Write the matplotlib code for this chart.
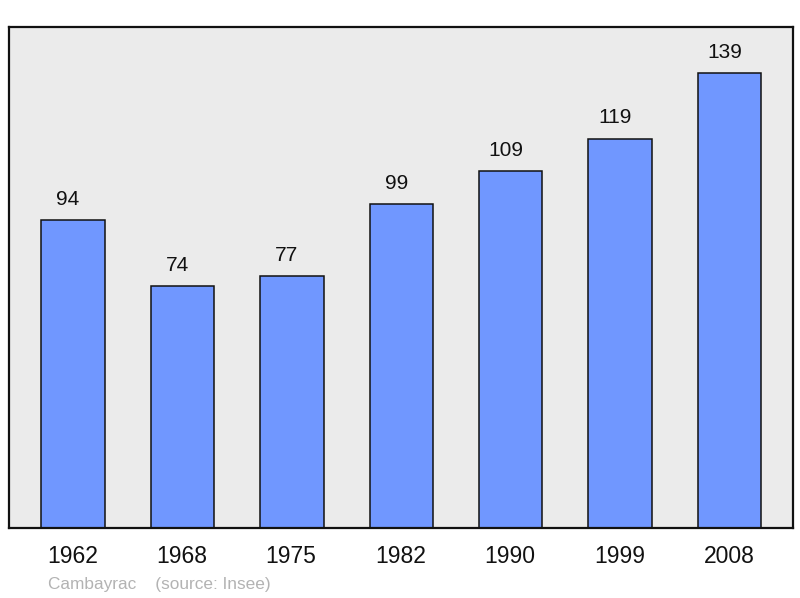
import matplotlib.pyplot as plt

years = ["1962", "1968", "1975", "1982", "1990", "1999", "2008"]
population = [94, 74, 77, 99, 109, 119, 139]

plt.rcParams['font.family'] = ['Liberation Sans', 'DejaVu Sans']

fig = plt.figure(figsize=(8, 5.98), dpi=100)
ax = fig.add_axes([9 / 800, 70 / 598, 784 / 800, 501 / 598])
ax.set_facecolor('#ebebeb')

x = list(range(len(years)))
ax.bar(x, population, width=0.58, color='#7097ff', edgecolor='#111111', linewidth=1.1, zorder=2)

# value labels above the bars (sit a little left of centre in the original)
for xi, v in zip(x, population):
    ax.annotate(str(v), (xi, v), xytext=(-3.6, 15), textcoords='offset points',
                ha='center', va='center', fontsize=15, color='#111111')

# year labels under the axes
for xi, y in zip(x, years):
    ax.annotate(y, (xi, 0), xycoords=('data', 'axes fraction'), xytext=(-0.5, -20.5),
                textcoords='offset points', ha='center', va='center', fontsize=16.5, color='#111111')

ax.set_xlim(-0.585, 6.58)
ax.set_ylim(0, 153.1)
ax.set_xticks([])
ax.set_yticks([])
for s in ax.spines.values():
    s.set_linewidth(1.6)
    s.set_color('#111111')

fig.text(48 / 800, 1 - 584 / 598, "Cambayrac    (source: Insee)", fontsize=12.4,
         color='#b3b3b3', ha='left', va='center')

plt.savefig('out.png')
